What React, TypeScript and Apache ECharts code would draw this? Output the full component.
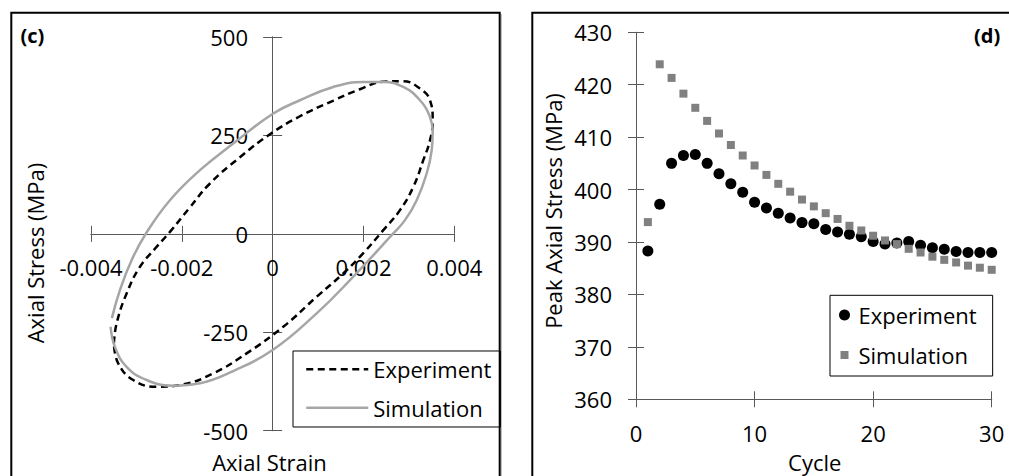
import React, { useEffect, useRef } from 'react';
import * as echarts from 'echarts';

// Panel (c): hysteresis loops (axial strain, axial stress MPa)
const expStrain = [-0.003496, -0.003436, -0.003216, -0.002923, -0.002593, -0.002262, -0.001844, -0.001381, -0.00072, -0.00006, 0.000601, 0.001328, 0.001923, 0.00243, 0.00287, 0.003244, 0.003465, 0.003524, 0.003465, 0.003317, 0.003097, 0.002804, 0.002436, 0.001996, 0.001555, 0.000969, 0.000233, -0.000573, -0.001308, -0.002042, -0.002555, -0.00307, -0.003401, -0.003496];
const expStress = [-278.2, -227.4, -151.3, -83.8, -38, 5, 64, 127.9, 194.7, 253, 298.7, 338, 367.3, 386.3, 387.6, 369, 339.3, 288.6, 237.8, 187.1, 119.3, 60.2, 9.4, -49, -100.5, -159.9, -236, -303.6, -354.3, -384, -388.3, -371.3, -328.9, -278.2];
const simStrain = [-0.003568, -0.003474, -0.003216, -0.002775, -0.002189, -0.001601, -0.000868, 0, 0.000969, 0.001703, 0.002656, 0.002914, 0.003172, 0.003392, 0.003502, 0.003524, 0.003465, 0.003244, 0.002877, 0.002436, 0.001996, 0.001335, 0.000601, 0.000013, -0.000868, -0.001601, -0.002262, -0.00279, -0.003106, -0.003363, -0.00354];
const simStress = [-236, -286.8, -337.6, -371.3, -385.8, -379.7, -348.5, -295.2, -202, -117.5, 1, 34.8, 85.5, 153.3, 212.4, 258.9, 297, 339.3, 373.1, 385.8, 385.8, 373.1, 339.3, 305.6, 229.4, 161.7, 85.5, 1, -66.8, -142.9, -214];

// Panel (d): peak axial stress per cycle
const cycles = [1, 2, 3, 4, 5, 6, 7, 8, 9, 10, 11, 12, 13, 14, 15, 16, 17, 18, 19, 20, 21, 22, 23, 24, 25, 26, 27, 28, 29, 30];
const expPeak = [388.3, 397.2, 405.0, 406.5, 406.7, 405.0, 403.0, 401.1, 399.5, 397.6, 396.5, 395.5, 394.6, 393.7, 393.5, 392.4, 391.9, 391.5, 391.0, 390.1, 389.6, 389.8, 390.1, 389.4, 388.9, 388.6, 388.2, 388.0, 388.0, 388.0];
const simPeak = [393.8, 423.9, 421.3, 418.3, 415.6, 413.1, 410.7, 408.5, 406.5, 404.6, 402.8, 401.1, 399.6, 398.1, 396.8, 395.5, 394.4, 393.1, 392.2, 391.2, 390.3, 389.6, 388.7, 388.0, 387.2, 386.6, 386.1, 385.5, 385.1, 384.7];

const FONT = 'Open Sans';
const AXIS = '#595959';

export default function App() {
  const ref = useRef<HTMLDivElement>(null);
  useEffect(() => {
    const chart = echarts.init(ref.current as HTMLDivElement, null, { renderer: 'svg' });
    const lbl = { fontFamily: FONT, fontSize: 22, color: '#000' };
    const line = { color: AXIS, width: 1 };

    const axis = (o: any, inside: boolean, tickLen: number, margin: number, showLabel: boolean, onZeroIdx: number) => ({
      type: 'value',
      gridIndex: o.gridIndex,
      min: o.min,
      max: o.max,
      interval: o.interval,
      position: o.position,
      axisLine: { show: true, onZero: true, onZeroAxisIndex: onZeroIdx, lineStyle: line },
      axisTick: { show: true, inside, length: tickLen, lineStyle: line },
      axisLabel: { show: showLabel, margin, ...lbl, ...(o.fmt ? { formatter: o.fmt } : {}) },
      splitLine: { show: false },
    });

    const strainFmt = (v: number) => {
      const r = Math.round(v * 1000) / 1000;
      return r === 0 ? '0' : String(r);
    };

    const xC = { gridIndex: 0, min: -0.004, max: 0.004, interval: 0.002, position: 'bottom', fmt: strainFmt };
    const yC = { gridIndex: 0, min: -500, max: 500, interval: 250, position: 'left' };
    const xD = { gridIndex: 1, min: 0, max: 30, interval: 10, position: 'bottom' };
    const yD = { gridIndex: 1, min: 360, max: 430, interval: 10, position: 'left' };

    chart.setOption({
      animation: false,
      backgroundColor: '#fff',
      grid: [
        { left: 91, top: 37, width: 363.3, height: 393.7 },
        { left: 636, top: 32.3, width: 355.7, height: 367 },
      ],
      xAxis: [
        axis(xC, false, 8, -175, true, 0),
        axis(xC, true, 8, 23, false, 0),
        axis(xD, false, 8, 23, true, 2),
        axis(xD, true, 8, 23, false, 2),
      ],
      yAxis: [
        axis(yC, false, 9.5, -157, true, 0),
        axis(yC, true, 9.5, 24.7, false, 0),
        axis(yD, false, 8, 24, true, 2),
        axis(yD, true, 8, 24, false, 2),
      ],
      legend: [
        {
          orient: 'vertical',
          left: 293,
          top: 351,
          padding: [7.3, 9, 8.3, 12],
          itemGap: 16.4,
          itemWidth: 62,
          itemHeight: 14,
          backgroundColor: '#fff',
          borderColor: '#000',
          borderWidth: 1,
          borderRadius: 0,
          textStyle: { ...lbl },
          itemStyle: { opacity: 0 },
          lineStyle: { width: 2.5 },
          data: ['Experiment', 'Simulation'],
        },
        {
          orient: 'vertical',
          left: 830,
          top: 295.3,
          padding: [8.7, 16, 10, 9],
          itemGap: 18,
          itemWidth: 18,
          itemHeight: 11,
          backgroundColor: '#fff',
          borderColor: '#000',
          borderWidth: 1,
          borderRadius: 0,
          textStyle: { ...lbl },
          formatter: (n: string) => n.split('#')[0],
          data: [
            { name: 'Experiment#d', icon: 'circle' },
            { name: 'Simulation#d', icon: 'path://M0 0M11 11M1.5 1.5L9.5 1.5L9.5 9.5L1.5 9.5Z' },
          ],
        },
      ],
      series: [
        {
          name: 'Experiment',
          type: 'line',
          xAxisIndex: 0,
          yAxisIndex: 0,
          data: expStrain.map((s, i) => [s, expStress[i]]),
          symbol: 'none',
          smooth: 0.45,
          lineStyle: { color: '#000', width: 2.5, type: [7, 4.5] },
          itemStyle: { color: '#000' },
        },
        {
          name: 'Simulation',
          type: 'line',
          xAxisIndex: 0,
          yAxisIndex: 0,
          data: simStrain.map((s, i) => [s, simStress[i]]),
          symbol: 'none',
          smooth: 0.45,
          lineStyle: { color: '#a6a6a6', width: 2.5 },
          itemStyle: { color: '#a6a6a6' },
        },
        {
          name: 'Experiment#d',
          type: 'scatter',
          xAxisIndex: 2,
          yAxisIndex: 2,
          data: cycles.map((c, i) => [c, expPeak[i]]),
          symbol: 'circle',
          symbolSize: 11,
          itemStyle: { color: '#000', opacity: 1 },
        },
        {
          name: 'Simulation#d',
          type: 'scatter',
          xAxisIndex: 2,
          yAxisIndex: 2,
          data: cycles.map((c, i) => [c, simPeak[i]]),
          symbol: 'rect',
          symbolSize: 8,
          itemStyle: { color: '#808080', opacity: 1 },
        },
      ],
      graphic: [
        { type: 'rect', z: 100, silent: true, shape: { x: 11.3, y: 12.7, width: 488.4, height: 480 }, style: { fill: 'none', stroke: '#000', lineWidth: 2 } },
        { type: 'line', z: 100, silent: true, shape: { x1: 501.5, y1: 14, x2: 501.5, y2: 476 }, style: { stroke: '#c0c0c0', lineWidth: 1 } },
        { type: 'rect', z: 100, silent: true, shape: { x: 532.3, y: 12.7, width: 600, height: 480 }, style: { fill: 'none', stroke: '#000', lineWidth: 2 } },
        { type: 'text', z: 100, x: 20.5, y: 35, style: { text: '(c)', fontFamily: FONT, fontSize: 20, fontWeight: 'bold', fill: '#000', align: 'left', verticalAlign: 'middle' } },
        { type: 'text', z: 100, x: 974, y: 35, style: { text: '(d)', fontFamily: FONT, fontSize: 20, fontWeight: 'bold', fill: '#000', align: 'left', verticalAlign: 'middle' } },
        { type: 'text', z: 100, x: 269.5, y: 462, style: { text: 'Axial Strain', fontFamily: FONT, fontSize: 22, fill: '#000', align: 'center', verticalAlign: 'middle' } },
        { type: 'text', z: 100, x: 814.7, y: 462, style: { text: 'Cycle', fontFamily: FONT, fontSize: 22, fill: '#000', align: 'center', verticalAlign: 'middle' } },
        { type: 'text', z: 100, x: 35, y: 253, rotation: Math.PI / 2, style: { text: 'Axial Stress (MPa)', fontFamily: FONT, fontSize: 22, fill: '#000', align: 'center', verticalAlign: 'middle' } },
        { type: 'text', z: 100, x: 553.3, y: 211, rotation: Math.PI / 2, style: { text: 'Peak Axial Stress (MPa)', fontFamily: FONT, fontSize: 22, fill: '#000', align: 'center', verticalAlign: 'middle' } },
      ],
    });
    return () => chart.dispose();
  }, []);
  return <div ref={ref} style={{ position: 'absolute', left: 0, top: 0, width: 1009, height: 476, background: '#fff' }} />;
}
